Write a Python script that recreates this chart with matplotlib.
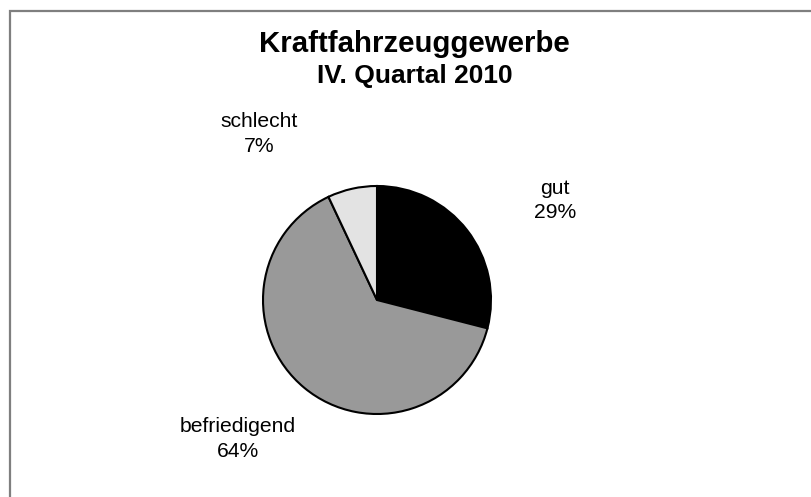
import matplotlib
matplotlib.use("Agg")
import matplotlib.pyplot as plt
from matplotlib.patches import Rectangle

plt.rcParams['font.family'] = ['Liberation Sans', 'DejaVu Sans']

# data
categories = ["gut", "befriedigend", "schlecht"]
shares = [29, 64, 7]
colors = ["#000000", "#999999", "#e3e3e3"]
title_1 = "Kraftfahrzeuggewerbe"
title_2 = "IV. Quartal 2010"

W, H = 812, 497
fig = plt.figure(figsize=(W / 100, H / 100), dpi=100)

# grey frame around the chart area (right/bottom cut off like the original)
fig.patches.append(Rectangle((10 / W, -0.01), 1.1, (H - 11) / H + 0.01,
                             transform=fig.transFigure, fill=False,
                             edgecolor="#7f7f7f", linewidth=1.6))

# pie axes: centre (377, 300) px, radius 114 px
cx, cy, r = 377, 300, 114
ax = fig.add_axes([(cx - r) / W, (H - cy - r) / H, 2 * r / W, 2 * r / H])
ax.pie(shares, colors=colors, startangle=90, counterclock=False,
       wedgeprops=dict(edgecolor="black", linewidth=1.5))
ax.set_xlim(-1, 1)
ax.set_ylim(-1, 1)
ax.set_aspect("equal")
ax.axis("off")

# label anchors (x, baseline of name, baseline of percent) in pie radii
label_pos = {"gut": (1.56, 0.93, 0.72),
             "befriedigend": (-1.22, -1.158, -1.377),
             "schlecht": (-1.035, 1.518, 1.298)}
for cat, val in zip(categories, shares):
    x, y1, y2 = label_pos[cat]
    ax.text(x, y1, cat, ha="center", va="baseline", fontsize=15.2, clip_on=False)
    ax.text(x, y2, f"{val}%", ha="center", va="baseline", fontsize=15.2, clip_on=False)

fig.text(414 / W, 1 - 52 / H, title_1, ha="center", va="baseline",
         fontsize=21.2, fontweight="bold")
fig.text(415 / W, 1 - 83 / H, title_2, ha="center", va="baseline",
         fontsize=19, fontweight="bold")

fig.savefig("out.png", dpi=100)
